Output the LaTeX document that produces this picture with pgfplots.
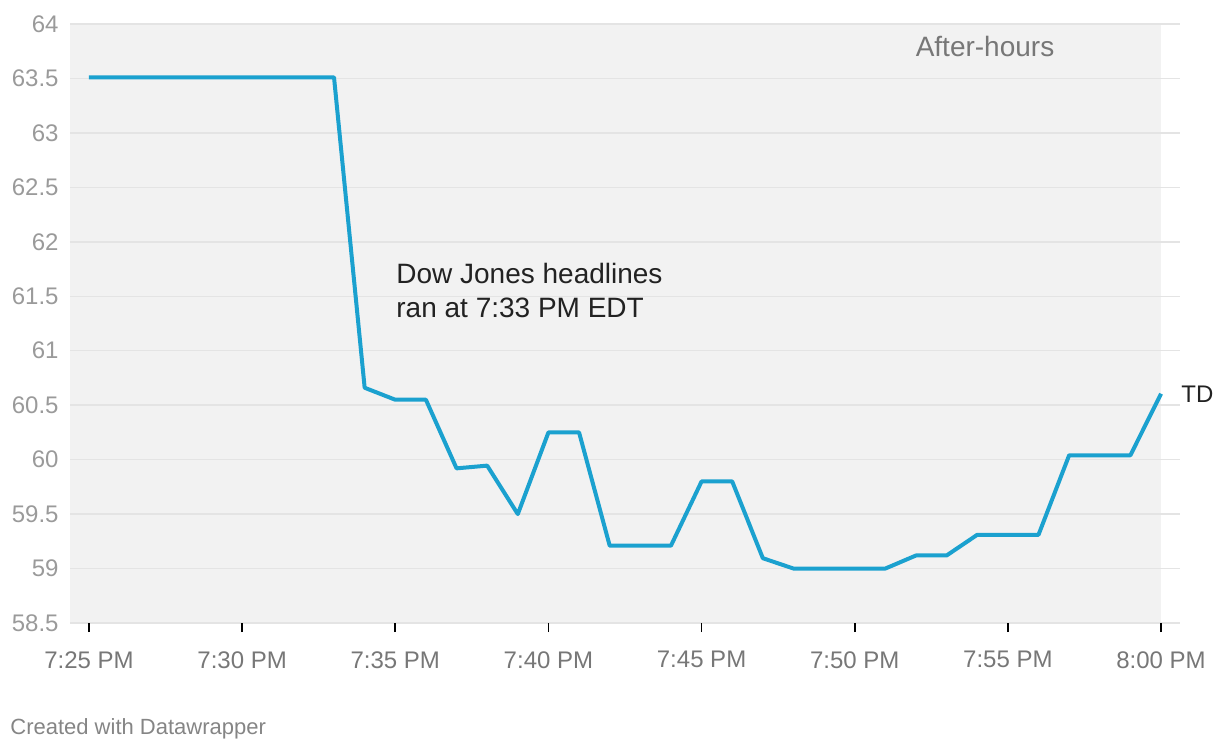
\documentclass[border=0pt]{standalone}
\usepackage{fontspec}
\setmainfont{Liberation Sans}
\usepackage{pgfplots}
\pgfplotsset{compat=1.18}
\usetikzlibrary{calc}
\definecolor{tdline}{HTML}{1BA1CF}
\definecolor{bgpanel}{HTML}{F2F2F2}
\definecolor{gridc}{HTML}{E4E4E4}
\definecolor{ylab}{HTML}{9A9A9A}
\definecolor{xlab}{HTML}{777777}
\definecolor{note}{HTML}{222222}

\begin{document}
\begin{tikzpicture}
\begin{axis}[
  set layers,
  scale only axis, width=555pt, height=299.5pt,
  xmin=-0.62, xmax=35.62, ymin=58.5, ymax=64,
  axis lines*=left, axis line style={draw=none},
  ytick={58.5,59,...,64}, ytick style={draw=none},
  xtick={0,5,...,35},
  xticklabels={7:25 PM,7:30 PM,7:35 PM,7:40 PM,7:45 PM,7:50 PM,7:55 PM,8:00 PM},
  tick align=outside, major tick length=4.5pt,
  xtick style={draw=black, line width=0.8pt},
  ymajorgrids, grid style={gridc, line width=0.7pt},
  /pgf/number format/assume math mode=true,
  yticklabel style={font=\fontsize{12}{14}\selectfont, text=ylab, anchor=east, inner sep=0pt, xshift=-1pt},
  xticklabel style={font=\fontsize{12}{14}\selectfont, text=xlab, anchor=north, inner sep=0pt, yshift=-9.5pt},
  clip=false,
]
\begin{pgfonlayer}{axis background}
\fill[bgpanel] (axis cs:-0.62,58.5) rectangle (axis cs:35,64);
\end{pgfonlayer}
\addplot[tdline, line width=2pt, line join=round] coordinates {
  (0,63.51) (1,63.51) (2,63.51) (3,63.51) (4,63.51) (5,63.51) (6,63.51) (7,63.51) (8,63.51)
  (9,60.66) (10,60.55) (11,60.55) (12,59.92) (13,59.945) (14,59.50) (15,60.25) (16,60.25)
  (17,59.21) (18,59.21) (19,59.21) (20,59.80) (21,59.80) (22,59.095) (23,59.00) (24,59.00)
  (25,59.00) (26,59.00) (27,59.12) (28,59.12) (29,59.31) (30,59.31) (31,59.31) (32,60.04)
  (33,60.04) (34,60.04) (35,60.605)
};
\coordinate (tl) at (rel axis cs:0,1);
\coordinate (bl) at (rel axis cs:0,0);
\end{axis}
% multi-line node: base anchor sits on the last line
\node[anchor=base west, text=note, font=\fontsize{14}{17}\selectfont, inner sep=0pt, align=left]
  at ($(tl)+(163pt,-146.5pt)$) {Dow Jones headlines\\ran at 7:33 PM EDT};
\node[anchor=base, text=xlab, font=\fontsize{14}{16}\selectfont, inner sep=0pt]
  at ($(tl)+(457.5pt,-16.5pt)$) {After-hours};
\node[anchor=west, text=note, font=\fontsize{12}{14}\selectfont, inner sep=0pt]
  at ($(bl)+(555.5pt,114.5pt)$) {TD};
\node[anchor=base west, text=xlab!90, font=\fontsize{11}{13}\selectfont, inner sep=0pt]
  at ($(bl)+(-30pt,-55.5pt)$) {Created with Datawrapper};
\pgfresetboundingbox
\path[use as bounding box] ($(bl)+(-35pt,-63.5pt)$) rectangle ++(610pt,375pt);
\end{tikzpicture}
\end{document}
